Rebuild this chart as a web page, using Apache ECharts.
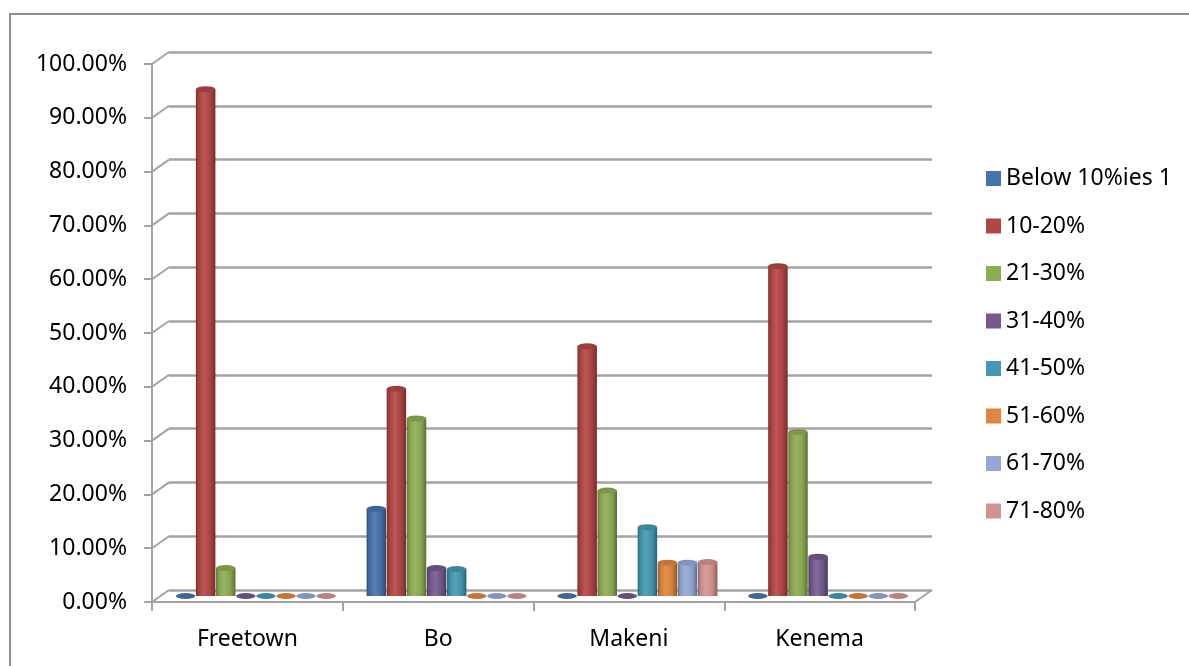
<!DOCTYPE html>
<html>
<head>
<meta charset="utf-8">
<title>Distribution by town</title>
<script src="https://cdn.jsdelivr.net/npm/echarts@6/dist/echarts.min.js"></script>
<style>
  html, body { margin: 0; padding: 0; background: #ffffff; }
  #chart { width: 1189px; height: 666px; }
</style>
</head>
<body>
<div id="chart"></div>
<script>
// Towns along the category axis
const categories = ['Freetown', 'Bo', 'Makeni', 'Kenema'];

// Range names, one series per range
const ranges = ['Below 10%ies 1', '10-20%', '21-30%', '31-40%', '41-50%', '51-60%', '61-70%', '71-80%'];

// Share of respondents (%) per town, in the order of `categories`
const below10 = [0, 16.2, 0, 0];
const r10to20 = [94.2, 38.5, 46.4, 61.3];
const r21to30 = [5.2, 33.0, 19.6, 30.5];
const r31to40 = [0, 5.2, 0, 7.3];
const r41to50 = [0, 5.0, 12.8, 0];
const r51to60 = [0, 0, 6.2, 0];
const r61to70 = [0, 0, 6.2, 0];
const r71to80 = [0, 0, 6.3, 0];

// Value-axis tick values (percent)
const yTicks = [0, 10, 20, 30, 40, 50, 60, 70, 80, 90, 100];

const seriesValues = [below10, r10to20, r21to30, r31to40, r41to50, r51to60, r61to70, r71to80];
const palette = ['#4673AB', '#B24643', '#8DAC52', '#74598F', '#4399B2', '#DF853D', '#93A9D4', '#D49392'];

const FONT = '"Noto Sans", "Open Sans", sans-serif';
const GRID_COLOR = '#a3a3a3';
// Depth offset of the back wall relative to the front plane
const DEPTH_X = 17, DEPTH_Y = -12;

function shade(hex, amt) {
  const n = parseInt(hex.slice(1), 16);
  let r = (n >> 16) & 255, g = (n >> 8) & 255, b = n & 255;
  const t = amt < 0 ? 0 : 255, p = Math.abs(amt);
  r = Math.round(r + (t - r) * p);
  g = Math.round(g + (t - g) * p);
  b = Math.round(b + (t - b) * p);
  return 'rgb(' + r + ',' + g + ',' + b + ')';
}

function cylinderFill(c) {
  return new echarts.graphic.LinearGradient(0, 0, 1, 0, [
    { offset: 0, color: shade(c, -0.28) },
    { offset: 0.18, color: shade(c, -0.04) },
    { offset: 0.42, color: shade(c, 0.1) },
    { offset: 0.75, color: shade(c, -0.06) },
    { offset: 1, color: shade(c, -0.35) }
  ]);
}

const BAR_W = 19.5;
const series = [];

ranges.forEach(function (name, i) {
  series.push({
    type: 'bar',
    name: name,
    xAxisIndex: 2,
    yAxisIndex: 2,
    data: seriesValues[i],
    barWidth: BAR_W,
    barGap: '3%',
    itemStyle: { color: cylinderFill(palette[i]) },
    z: 3
  });
  series.push({
    type: 'pictorialBar',
    name: name,
    xAxisIndex: 2,
    yAxisIndex: 2,
    data: seriesValues[i],
    barWidth: BAR_W,
    barGap: '3%',
    symbol: 'circle',
    symbolPosition: 'end',
    symbolSize: [BAR_W, 6],
    symbolOffset: [0, '-50%'],
    itemStyle: { color: shade(palette[i], -0.12) },
    z: 4
  });
});

// Diagonal edges linking the front axis to the back wall, plus the floor's right edge
series.push({
  type: 'custom',
  xAxisIndex: 0,
  yAxisIndex: 0,
  silent: true,
  clip: false,
  z: 1,
  data: yTicks.map(function (v) { return [0, v]; }),
  renderItem: function (params, api) {
    const cs = params.coordSys;
    const y = api.coord([0, api.value(1)])[1];
    const style = { stroke: GRID_COLOR, lineWidth: 2, fill: null };
    const children = [{
      type: 'line',
      shape: { x1: cs.x, y1: y, x2: cs.x + DEPTH_X, y2: y + DEPTH_Y },
      style: style
    }];
    if (api.value(1) === 0) {
      children.push({
        type: 'line',
        shape: { x1: cs.x + cs.width, y1: y, x2: cs.x + cs.width + DEPTH_X, y2: y + DEPTH_Y },
        style: style
      });
    }
    return { type: 'group', children: children };
  }
});

const FRONT = { left: 152, top: 64, width: 763, height: 538 };

const option = {
  animation: false,
  backgroundColor: '#ffffff',
  textStyle: { fontFamily: FONT },
  graphic: [{
    type: 'rect',
    shape: { x: 10, y: 14, width: 1190, height: 680 },
    style: { fill: null, stroke: '#8f8f8f', lineWidth: 2 },
    silent: true,
    z: 0
  }],
  legend: {
    orient: 'vertical',
    left: 986,
    top: 167,
    padding: 0,
    itemWidth: 15,
    itemHeight: 15,
    itemGap: 24.5,
    icon: 'rect',
    textStyle: { fontSize: 23, color: '#000000', fontFamily: FONT },
    data: ranges.map(function (n, i) { return { name: n, itemStyle: { color: palette[i] } }; })
  },
  grid: [
    // front plane: axes, ticks and labels
    { left: FRONT.left, top: FRONT.top, width: FRONT.width, height: FRONT.height },
    // back wall: gridlines
    { left: FRONT.left + DEPTH_X, top: FRONT.top + DEPTH_Y, width: FRONT.width, height: FRONT.height },
    // middle depth: the columns
    { left: FRONT.left + DEPTH_X / 2, top: FRONT.top + DEPTH_Y / 2, width: FRONT.width, height: FRONT.height }
  ],
  xAxis: [
    {
      gridIndex: 0,
      type: 'category',
      data: categories,
      axisLine: { show: true, lineStyle: { color: GRID_COLOR, width: 2 } },
      axisTick: { show: true, length: 9, lineStyle: { color: GRID_COLOR, width: 2 } },
      axisLabel: { fontSize: 23, color: '#000000', fontFamily: FONT, margin: 26 },
      splitLine: { show: false }
    },
    { gridIndex: 1, type: 'category', data: categories, show: false },
    { gridIndex: 2, type: 'category', data: categories, show: false }
  ],
  yAxis: [
    {
      gridIndex: 0,
      type: 'value',
      min: 0,
      max: 100,
      interval: 10,
      axisLine: { show: true, lineStyle: { color: GRID_COLOR, width: 2 } },
      axisTick: { show: true, length: 8, lineStyle: { color: GRID_COLOR, width: 2 } },
      axisLabel: {
        fontSize: 23,
        color: '#000000',
        fontFamily: FONT,
        margin: 25,
        padding: [5, 0, 0, 0],
        formatter: function (v) { return v.toFixed(2) + '%'; }
      },
      splitLine: { show: false }
    },
    {
      gridIndex: 1,
      type: 'value',
      min: 0,
      max: 100,
      interval: 10,
      axisLine: { show: false },
      axisTick: { show: false },
      axisLabel: { show: false },
      splitLine: { show: true, lineStyle: { color: GRID_COLOR, width: 2.5 } }
    },
    {
      gridIndex: 2,
      type: 'value',
      min: 0,
      max: 100,
      interval: 10,
      show: false,
      splitLine: { show: false }
    }
  ],
  series: series
};

const chart = echarts.init(document.getElementById('chart'), null, { renderer: 'canvas' });
chart.setOption(option);
</script>
</body>
</html>
